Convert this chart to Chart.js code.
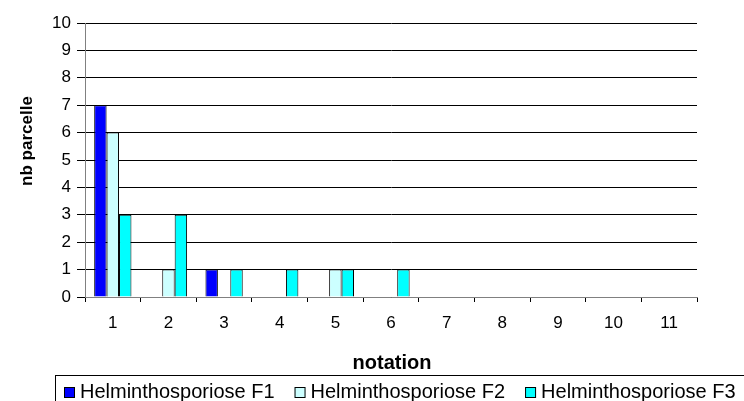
<!DOCTYPE html>
<html>
<head>
<meta charset="utf-8">
<style>
  html, body { margin: 0; padding: 0; background: #fff; }
  #wrap { width: 744px; height: 401px; position: relative; }
</style>
<script src="https://cdn.jsdelivr.net/npm/chart.js@4/dist/chart.umd.min.js"></script>
</head>
<body>
<div id="wrap"><canvas id="chart" width="744" height="401"></canvas></div>
<script>
// data
const notations = ['1', '2', '3', '4', '5', '6', '7', '8', '9', '10', '11'];
const helmF1 = [7, 0, 1, 0, 0, 0, 0, 0, 0, 0, 0];
const helmF2 = [6, 1, 0, 0, 1, 0, 0, 0, 0, 0, 0];
const helmF3 = [3, 3, 1, 1, 1, 1, 0, 0, 0, 0, 0];
const seriesNames = ['Helminthosporiose F1', 'Helminthosporiose F2', 'Helminthosporiose F3'];
const seriesColors = ['#0000FF', '#CCFFFF', '#00FFFF'];

const FONT = 'Arial, "Liberation Sans", sans-serif';

// axis titles + legend box (Excel style, legend runs off the right edge)
const extras = {
  id: 'extras',
  afterDraw(chart) {
    const ctx = chart.ctx;
    ctx.save();
    ctx.fillStyle = '#000';
    ctx.textAlign = 'center';
    ctx.textBaseline = 'alphabetic';
    ctx.font = 'bold 20px ' + FONT;
    ctx.fillText('notation', 392, 369);
    ctx.font = 'bold 17px ' + FONT;
    ctx.textBaseline = 'middle';
    ctx.translate(27, 141);
    ctx.rotate(-Math.PI / 2);
    ctx.fillText('nb parcelle', 0, 0);
    ctx.restore();

    // legend
    ctx.save();
    ctx.strokeStyle = '#000';
    ctx.lineWidth = 1;
    ctx.strokeRect(55.5, 375.5, 760, 40);
    ctx.font = '20px ' + FONT;
    ctx.textBaseline = 'alphabetic';
    ctx.textAlign = 'left';
    let x = 64;
    chart.data.datasets.forEach((ds) => {
      ctx.fillStyle = ds.backgroundColor;
      ctx.fillRect(x, 387, 11, 11);
      ctx.strokeRect(x + 0.5, 387.5, 10, 10);
      ctx.fillStyle = '#000';
      ctx.fillText(ds.label, x + 16, 398);
      x += 16 + ctx.measureText(ds.label).width + 20;
    });
    ctx.restore();
  }
};

new Chart('chart', {
  type: 'bar',
  data: {
    labels: notations,
    datasets: [
      { label: seriesNames[0], data: helmF1, backgroundColor: seriesColors[0] },
      { label: seriesNames[1], data: helmF2, backgroundColor: seriesColors[1] },
      { label: seriesNames[2], data: helmF3, backgroundColor: seriesColors[2] }
    ].map(d => Object.assign(d, { borderColor: '#000', borderWidth: 1, barPercentage: 1, categoryPercentage: 0.67 }))
  },
  options: {
    responsive: false,
    animation: false,
    layout: { padding: { top: 23, right: 47, left: 0, bottom: 0 } },
    plugins: { legend: { display: false }, tooltip: { enabled: false } },
    scales: {
      x: {
        grid: { offset: true, drawOnChartArea: false, color: '#000', tickLength: 5 },
        border: { color: '#808080', width: 1 },
        ticks: { color: '#000', font: { family: FONT, size: 17 }, padding: 11, maxRotation: 0 },
        afterFit(scale) { scale.height = 104; }
      },
      y: {
        min: 0,
        max: 10,
        grid: { color: '#000', tickLength: 8 },
        border: { color: '#808080', width: 1 },
        ticks: { stepSize: 1, color: '#000', font: { family: FONT, size: 17 }, padding: 6 },
        afterFit(scale) { scale.width = 85; }
      }
    }
  },
  plugins: [extras]
});
</script>
</body>
</html>
